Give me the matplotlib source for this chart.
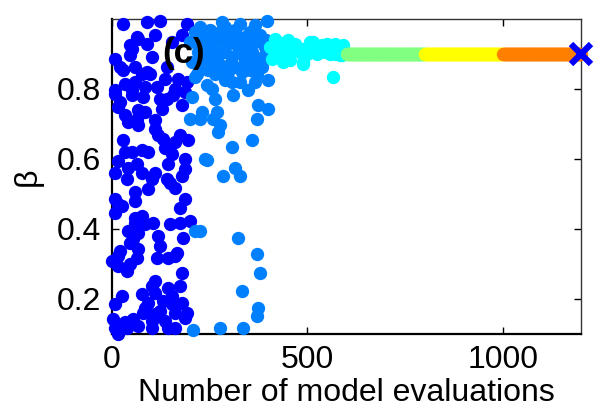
import numpy as np
import matplotlib
matplotlib.use("Agg")
import matplotlib.pyplot as plt

plt.rcParams['font.family'] = ['Liberation Sans', 'DejaVu Sans']

# batch 1 (evaluations 1-200), initial random sample
blue_x = [28, 89, 123, 192, 64, 110, 46, 89, 179, 153, 8, 46, 102, 28, 77, 97, 136,
          8, 51, 84, 161, 187, 8, 51, 79, 141, 15, 66, 128, 179, 41, 110, 66, 28,
          118, 174, 194, 51, 92, 153, 15, 64, 143, 187, 8, 77, 110, 38, 102, 141,
          179, 161, 59, 92, 8, 59, 26, 8, 187, 174, 77, 59, 105, 148, 174, 199,
          182, 66, 118, 54, 123, 20, 66, 166, 15, 64, 115, 161, 15, 38, 179, 110,
          143, 174, 26, 77, 110, 8, 92, 130, 179, 192, 79, 123, 161, 3, 54, 102,
          136, 8, 38, 102, 161, 15,
          20, 33, 64, 84, 123, 156, 110, 130, 161, 187, 33, 77, 136, 41,
          51, 66, 20, 59, 89, 59, 33, 141, 169, 192, 115,
          59, 84, 41, 46, 148, 15,
          1, 46, 143, 102, 153, 84, 153, 110, 33, 66, 187, 143]
blue_y = [0.985, 0.99, 0.993, 0.985, 0.948, 0.953, 0.925, 0.928, 0.953, 0.933,
          0.885, 0.897, 0.891, 0.854, 0.843, 0.843, 0.828, 0.797, 0.797, 0.806,
          0.80, 0.791, 0.786, 0.783, 0.777, 0.772, 0.749, 0.74, 0.743, 0.755,
          0.706, 0.712, 0.698, 0.655, 0.669, 0.669, 0.655, 0.621, 0.621, 0.615,
          0.593, 0.587, 0.587, 0.57, 0.559, 0.559, 0.559, 0.542, 0.544, 0.544,
          0.55, 0.516, 0.507, 0.513, 0.485, 0.479, 0.465, 0.445, 0.485, 0.459,
          0.436, 0.417, 0.417, 0.414, 0.417, 0.422, 0.374, 0.388, 0.38, 0.371,
          0.351, 0.337, 0.343, 0.331, 0.323, 0.317, 0.317, 0.323, 0.294, 0.28,
          0.275, 0.252, 0.232, 0.238, 0.209, 0.215, 0.218, 0.187, 0.189, 0.195,
          0.189, 0.161, 0.161, 0.167, 0.161, 0.144, 0.144, 0.138, 0.138, 0.116,
          0.118, 0.118, 0.118, 0.101,
          0.763, 0.726, 0.715, 0.735, 0.772, 0.783, 0.686, 0.658, 0.649, 0.601,
          0.621, 0.627, 0.63, 0.573,
          0.914, 0.942, 0.862, 0.862, 0.848, 0.82, 0.814, 0.862, 0.828, 0.82,
          0.806,
          0.43, 0.414, 0.394, 0.36, 0.53, 0.47,
          0.309, 0.30, 0.317, 0.238, 0.209, 0.175, 0.187, 0.158, 0.133, 0.124,
          0.147, 0.118]

# batch 2 (201-400)
mid_x = [217, 256, 309, 348, 205, 263, 199, 225, 268, 371, 276, 358, 307, 238, 284,
         315, 327, 243, 230, 258, 271, 373, 399, 399, 243, 322, 225, 371, 378, 332,
         373, 371, 276, 335, 207, 212, 396,
         199, 212, 225, 238, 251, 263, 276, 289, 302, 315, 327, 340, 353, 366, 378,
         391, 395, 220, 238, 256, 271, 289, 307, 322, 340, 358, 373, 386, 245, 263,
         281, 297, 315, 332, 353, 371, 289, 327, 366, 251, 348, 205, 212,
         225, 243, 268, 294, 320, 358, 384, 233, 258, 302, 348, 384, 307, 271,
         335, 399, 217, 281, 366]
mid_y = [0.843, 0.80, 0.783, 0.797, 0.777, 0.772, 0.715, 0.715, 0.735, 0.715, 0.698,
         0.655, 0.635, 0.601, 0.55, 0.573, 0.55, 0.811, 0.735, 0.715, 0.678, 0.755,
         0.743, 0.826, 0.598, 0.374, 0.394, 0.329, 0.275, 0.223, 0.175, 0.152,
         0.118, 0.116, 0.11, 0.394, 0.993,
         0.933, 0.962, 0.976, 0.948, 0.968, 0.933, 0.962, 0.976, 0.948, 0.968,
         0.985, 0.948, 0.962, 0.933, 0.953, 0.919, 0.939, 0.905, 0.891, 0.905,
         0.877, 0.905, 0.891, 0.919, 0.882, 0.905, 0.877, 0.891, 0.854, 0.843,
         0.862, 0.848, 0.862, 0.848, 0.854, 0.843, 0.826, 0.82, 0.82, 0.919,
         0.919, 0.877, 0.834,
         0.933, 0.919, 0.948, 0.928, 0.948, 0.933, 0.933, 0.871, 0.871, 0.871,
         0.882, 0.862, 0.82, 0.905, 0.899, 0.891, 0.939, 0.99, 0.982]

# batch 3 (401-600)
cyan_x = [417, 450, 404, 430, 409, 463, 488, 481, 511, 537, 570, 591, 588, 524, 557,
          488, 514, 532, 550, 583, 583, 565, 488, 435, 468,
          425, 443, 455, 473, 499, 519, 545, 570, 596, 506, 417, 437]
cyan_y = [0.942, 0.939, 0.919, 0.911, 0.885, 0.911, 0.877, 0.905, 0.928, 0.925,
          0.928, 0.925, 0.897, 0.899, 0.899, 0.914, 0.933, 0.914, 0.928, 0.919,
          0.897, 0.834, 0.871, 0.891, 0.928,
          0.933, 0.905, 0.882, 0.919, 0.899, 0.914, 0.905, 0.899, 0.905, 0.933,
          0.899, 0.877]

# batches 4-6 converged on beta = 0.9
beta_conv = 0.9
green_x = np.arange(601, 801)
yellow_x = np.arange(801, 1001)
orange_x = np.arange(1001, 1200)
best_x, best_y = 1200, 0.9

fig = plt.figure(figsize=(5.94, 4.13), dpi=100)
ax = fig.add_axes([0.1886, 0.1913, 0.7896, 0.7627])

ms = 92
ax.scatter(blue_x, blue_y, s=ms, color='#0000ff', lw=0, clip_on=False, zorder=3)
ax.scatter(mid_x, mid_y, s=ms, color='#0080ff', lw=0, clip_on=False, zorder=3)
ax.scatter(cyan_x, cyan_y, s=ms, color='#00ffff', lw=0, clip_on=False, zorder=3)
ax.scatter(green_x, np.full(len(green_x), beta_conv), s=ms, color='#80ff80', lw=0,
           clip_on=False, zorder=3)
ax.scatter(yellow_x, np.full(len(yellow_x), beta_conv), s=ms, color='#ffff00', lw=0,
           clip_on=False, zorder=3)
ax.scatter(orange_x, np.full(len(orange_x), beta_conv), s=ms, color='#ff8000', lw=0,
           clip_on=False, zorder=3)
ax.plot(best_x, best_y, 'x', color='#0000ff', ms=15, mew=4.5, clip_on=False, zorder=4)

ax.text(182, 0.9, '(c)', fontsize=25, fontweight='bold', ha='center', va='center',
        zorder=5)

ax.set_xlim(0, 1200)
ax.set_ylim(0.1, 1.0)
ax.set_xticks([0, 500, 1000])
ax.set_yticks([0.2, 0.4, 0.6, 0.8])
ax.set_yticklabels(['0.2', '0.4', '0.6', '0.8'])
ax.tick_params(direction='in', length=5, width=1, labelsize=23, top=True, right=True,
               pad=8)
ax.set_xlabel('Number of model evaluations', fontsize=23, labelpad=2)
ax.set_ylabel('β', fontsize=23, labelpad=10)

for s in ['left', 'bottom']:
    ax.spines[s].set_linewidth(1.6)
for s in ['top', 'right']:
    ax.spines[s].set_linewidth(1.0)
    ax.spines[s].set_color('#333333')

fig.savefig('out.png', dpi=100)
